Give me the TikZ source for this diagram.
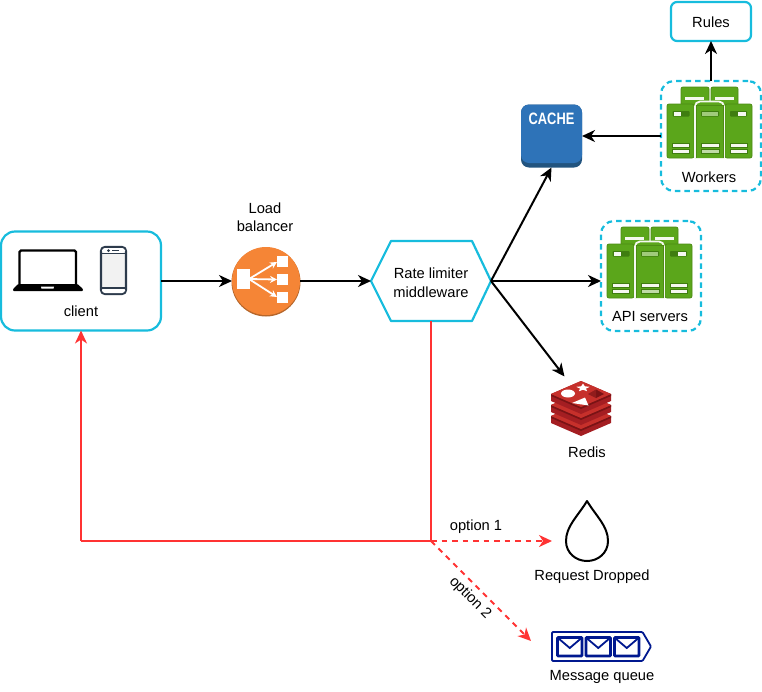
\documentclass[tikz,border=0pt]{standalone}
\usepackage{fontspec}
\setmainfont{Liberation Sans}
\usetikzlibrary{arrows.meta,calc}
\definecolor{cyanline}{HTML}{17BCDD}
\definecolor{redline}{HTML}{FF3333}
\definecolor{srvbody}{HTML}{5BA61B}
\definecolor{srvedge}{HTML}{4C8C14}
\definecolor{srvstrip}{HTML}{3F7D10}
\definecolor{srvlight}{HTML}{F5F8F0}
\definecolor{cacheblue}{HTML}{2E73B8}
\definecolor{cachedark}{HTML}{22547F}
\definecolor{lborange}{HTML}{F58536}
\definecolor{lbdark}{HTML}{B5662B}
\definecolor{redistop}{HTML}{C6302B}
\definecolor{redisdark}{HTML}{A41E22}
\definecolor{redisshade}{HTML}{7A1315}
\definecolor{mqblue}{HTML}{00188F}
\definecolor{phoneline}{HTML}{2D3B4C}
\tikzset{
  lbl/.style={font=\fontsize{14.7}{15}\selectfont,inner sep=0pt,align=center,text=black},
  solidbox/.style={draw=cyanline,line width=2.2pt,fill=white,rounded corners=#1,inner sep=0pt,outer sep=0pt},
  dashbox/.style={draw=cyanline,line width=2.2pt,dash pattern=on 5.5pt off 4pt,rounded corners=13pt,inner sep=0pt,outer sep=0pt,minimum width=100pt,minimum height=110pt},
  flow/.style={draw=black,line width=2pt,-{Stealth[length=13pt,width=12pt,inset=4pt]}},
  back/.style={draw=redline,line width=2pt},
  backarrow/.style={back,-{Stealth[length=13pt,width=12pt,inset=4pt]}},
  backdash/.style={backarrow,dash pattern=on 5.5pt off 5pt},
  rack/.style={fill=srvbody,draw=srvedge,line width=.8pt,rounded corners=2pt},
  stripdark/.style={fill=srvstrip,draw=none,rounded corners=.8pt},
  striplight/.style={fill=srvlight,draw=srvstrip,line width=.8pt},
  server/.pic={
    \path[rack] (14,20) -- (14,0) -- (42,0) -- (42,20) -- cycle;
    \path[rack] (44,20) -- (44,0) -- (71,0) -- (71,20) -- cycle;
    \fill[srvlight] (18,9.5) rectangle (37,12.5);
    \fill[srvlight] (48,9.5) rectangle (67,12.5);
    \path[rack] (0,71) -- (0,17) -- (27,17) -- (27,71) -- cycle;
    \path[rack] (58,71) -- (58,17) -- (85,17) -- (85,71) -- cycle;
    \path[fill=srvbody,draw=srvlight,line width=1.8pt,rounded corners=5pt] (28,71) -- (28,14.5) -- (57,14.5) -- (57,71);
    \fill[srvbody] (29,71) -- (29,18) -- (56,18) -- (56,71) -- cycle;
    \draw[srvedge,line width=.8pt] (29,71) -- (29,18) -- (56,18) -- (56,71);
    \path[stripdark] (5.5,24) rectangle (22.5,29.5);
    \fill[srvlight] (6.5,25) rectangle (14,28.5);
    \path[stripdark] (34,24) rectangle (52,29.5);
    \fill[srvlight!45!srvbody] (35,25) rectangle (51,28.5);
    \path[stripdark] (63,24) rectangle (80,29.5);
    \fill[srvlight] (71,25) rectangle (79,28.5);
    \path[striplight] (5.5,56) rectangle (22.5,60.5);
    \path[striplight] (5.5,62) rectangle (22.5,66.5);
    \path[striplight] (34,56) rectangle (52,60.5);
    \path[striplight,fill=srvlight!65!srvbody] (34,62) rectangle (52,66.5);
    \path[striplight] (63,56) rectangle (80,60.5);
    \path[striplight] (63,62) rectangle (80,66.5);
  },
  redislayer/.pic={
    \fill[redisdark] (0,0) -- (30,-13) -- (60,0) -- (60,7) -- (30,20) -- (0,7) -- cycle;
    \fill[redisshade] (30,13) -- (60,0) -- (60,2) -- (30,15) -- (0,2) -- (0,0) -- cycle;
    \fill[redistop] (0,0) -- (30,-13) -- (60,0) -- (30,13) -- cycle;
  }
}
\begin{document}
\begin{tikzpicture}[x=1pt,y=-1pt]
\useasboundingbox (0,0) rectangle (762,691);
% client
\node[solidbox=14pt,minimum width=160pt,minimum height=99pt] (client) at (81,281) {};
\draw[black,line width=2.4pt,rounded corners=1.5pt] (19.5,284) -- (19.5,250.5) -- (76,250.5) -- (76,284);
\fill[black,rounded corners=1pt] (13,291) -- (13,289) -- (18,284) -- (77.5,284) -- (83,289) -- (83,291) -- cycle;
\fill[white] (41,286.5) -- (41.5,288.5) -- (53.5,288.5) -- (54,286.5) -- cycle;
\fill[black!5,draw=phoneline,line width=2.2pt,rounded corners=4pt] (101,247) rectangle (126,294);
\fill[white,rounded corners=3pt] (102,248) -- (125,248) -- (125,253) -- (102,253) -- cycle;
\fill[white,rounded corners=3pt] (102,293) -- (125,293) -- (125,288) -- (102,288) -- cycle;
\draw[phoneline,line width=1.8pt] (101,253.5) -- (126,253.5) (101,288) -- (126,288);
\fill[phoneline] (108.5,250.5) circle (1.5pt);
\fill[phoneline] (112,249.6) rectangle (119,251.4);
\node[lbl] (clientlabel) at (81,311) {client};
% load balancer
\node[lbl] (lblabel) at (265,217) {Load\\[3pt]balancer};
\fill[lbdark] (266,282) circle (34.5pt);
\node[circle,fill=lborange,minimum size=68pt,inner sep=0pt,outer sep=0pt] (lb) at (266,281) {};
\fill[white] (237,269) rectangle (250,289);
\fill[white] (277,256) rectangle (288,267);
\fill[white] (277,274) rectangle (288,285);
\fill[white] (277,292) rectangle (288,303);
\draw[white,line width=1.8pt,-{Stealth[length=7pt,width=7pt]}] (249,279) -- (277,262);
\draw[white,line width=1.8pt,-{Stealth[length=7pt,width=7pt]}] (249,279) -- (277,279.5);
\draw[white,line width=1.8pt,-{Stealth[length=7pt,width=7pt]}] (249,279) -- (277,297);
% rate limiter
\node[minimum width=120pt,minimum height=80pt,inner sep=0pt,outer sep=0pt] (rate) at (431,281) {};
\draw[cyanline,line width=2.2pt,fill=white,line join=round] (rate.west) -- (391,241) -- (472,241) -- (rate.east) -- (472,321) -- (391,321) -- cycle;
\node[lbl] (ratelabel) at (431,282.5) {Rate limiter\\[3.5pt]middleware};
% cache
\node[fill=cachedark,rounded corners=8pt,minimum width=61pt,minimum height=63pt,inner sep=0pt,outer sep=0pt] (cache) at (551.5,136) {};
\fill[cacheblue,rounded corners=8pt] (521,104.5) rectangle (582,163);
\node[inner sep=0pt,text=white] (cachelabel) at (551.5,119) {\scalebox{.78}[1]{\fontsize{16.5}{18}\selectfont\bfseries CACHE}};
% rules
\node[solidbox=6pt,minimum width=80pt,minimum height=39pt] (rules) at (711,21.5) {};
\node[lbl] (ruleslabel) at (711,22) {Rules};
% workers
\node[dashbox] (workers) at (711,136) {};
\pic at (667,87) {server};
\node[lbl] (workerslabel) at (709,177) {Workers};
% api servers
\node[dashbox] (api) at (651,276) {};
\pic at (607,227) {server};
\node[lbl] (apilabel) at (650,317) {API servers};
% redis
\node[minimum width=60pt,minimum height=55pt,inner sep=0pt,outer sep=0pt] (redis) at (581,408) {};
\coordinate (redisin) at (564.5,376.5);
\pic at (551,416) {redislayer};
\pic at (551,405) {redislayer};
\pic at (551,394) {redislayer};
\fill[white] (568,393.5) ellipse (7pt and 4pt);
\fill[white] (583,383.5) -- (584.85,386.3) -- (589.7,386.8) -- (586,388.6) -- (587.1,391.2) -- (583,389.8) -- (578.9,391.2) -- (580,388.6) -- (576.3,386.8) -- (581.15,386.3) -- cycle;
\fill[redisshade] (596,389.5) -- (604,394) -- (596,398) -- cycle;
\fill[redisshade!70!redistop] (596,389.5) -- (588,394) -- (596,398) -- cycle;
\fill[white] (585,397.5) -- (588.5,405.5) -- (572,403) -- cycle;
\node[lbl] (redislabel) at (587,452) {Redis};
% drop
\node[minimum width=42pt,minimum height=60pt,inner sep=0pt,outer sep=0pt] (drop) at (587,531) {};
\draw[black,line width=2pt,line join=round,fill=white] (587,501) .. controls (578,516) and (566,526) .. (566,541) .. controls (566,553) and (576,561) .. (587,561) .. controls (598,561) and (608,553) .. (608,541) .. controls (608,526) and (596,516) .. (587,501) -- cycle;
\node[lbl] (droplabel) at (592,577) {Request Dropped};
% message queue
\node[minimum width=99pt,minimum height=29pt,inner sep=0pt,outer sep=0pt] (queue) at (601.5,646.5) {};
\draw[mqblue,line width=1.8pt,fill=white,line join=round,rounded corners=1pt] (552,632) -- (642.5,632) -- (651,646.5) -- (642.5,661) -- (552,661) -- cycle;
\foreach \ex in {557.5,586,614.5}{
  \draw[mqblue,line width=2.6pt,rounded corners=.8pt] (\ex,637.5) rectangle (\ex+24.5,656);
  \draw[mqblue,line width=1.8pt] (\ex+.5,638) -- (\ex+12.25,648) -- (\ex+24,638);
}
\node[lbl] (queuelabel) at (602,677) {Message queue};
% connectors
\coordinate (junction) at (431,541);
\coordinate (corner) at (81,541);
\path[flow] (client.east) -- (lb.west);
\path[flow] (lb.east) -- (rate.west);
\path[flow] (rate.east) -- (cache.south);
\path[flow] (rate.east) -- (rate.east -| api.west);
\path[flow] (rate.east) -- (redisin);
\path[flow] (workers.west) -- (cache.east);
\path[flow] (workers.north) -- (rules.south);
\draw[back] (rate.south) -- (junction) -- (corner);
\draw[backarrow] (corner) -- (client.south);
\coordinate (dropin) at (552,541);
\coordinate (queuein) at (531,641);
\draw[backdash] (junction) -- (dropin);
\draw[backdash] (junction) -- (queuein);
\node[lbl] (opt1) at (476,527) {option 1};
\node[lbl,rotate=-45] (opt2) at (470,598) {option 2};
\end{tikzpicture}
\end{document}
